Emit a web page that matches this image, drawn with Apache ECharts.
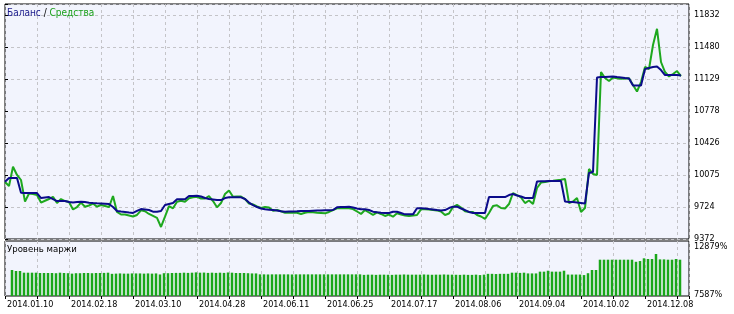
<!DOCTYPE html>
<html>
<head>
<meta charset="utf-8">
<script src="https://cdn.jsdelivr.net/npm/echarts@6/dist/echarts.min.js"></script>
<style>
html,body{margin:0;padding:0;background:#fff;}
#chart{width:734px;height:314px;}
</style>
</head>
<body>
<div id="chart"></div>
<script>
// ---- data ----
const xTickLabels = ['2014.01.10','2014.02.18','2014.03.10','2014.04.28','2014.06.11','2014.06.25','2014.07.17','2014.08.06','2014.09.04','2014.10.02','2014.12.08'];
const yTickLabels = ['9372','9724','10075','10426','10778','11129','11480','11832'];
const marginTickLabels = ['7587%','12879%'];

const balance = [
10001,10042,10042,10042,9880,9877,9877,9877,9877,9822,
9828,9833,9811,9789,9789,9789,9778,9772,9778,9782,
9778,9771,9767,9764,9762,9759,9756,9723,9680,9674,
9669,9663,9658,9680,9701,9696,9690,9672,9672,9680,
9745,9756,9767,9808,9808,9808,9844,9844,9848,9839,
9822,9811,9806,9800,9800,9822,9830,9830,9830,9830,
9811,9772,9745,9723,9707,9698,9694,9690,9685,9676,
9672,9674,9674,9676,9680,9680,9680,9682,9684,9685,
9687,9689,9690,9720,9723,9723,9727,9718,9707,9698,
9698,9690,9672,9665,9661,9658,9658,9672,9672,9658,
9643,9643,9643,9709,9709,9707,9701,9696,9690,9685,
9690,9712,9727,9727,9707,9690,9669,9658,9658,9658,
9658,9833,9833,9833,9833,9833,9855,9866,9850,9839,
9822,9822,9822,10003,10006,10006,10009,10009,10009,10009,
9784,9778,9778,9772,9767,9762,10097,10108,11146,11151,
11151,11154,11157,11151,11146,11140,11135,11058,11058,11058,
11239,11250,11261,11266,11228,11173,11173,11173,11173,11168
];

const equity = [
9998,9954,10166,10075,10020,9782,9871,9866,9855,9772,
9792,9811,9836,9767,9811,9789,9778,9696,9723,9772,
9727,9740,9762,9727,9745,9734,9723,9844,9669,9641,
9641,9630,9619,9636,9687,9677,9647,9625,9603,9504,
9617,9734,9709,9782,9792,9782,9819,9830,9836,9817,
9817,9844,9789,9720,9767,9866,9905,9836,9840,9839,
9811,9762,9751,9729,9712,9723,9718,9682,9690,9676,
9661,9661,9661,9661,9647,9661,9669,9665,9661,9658,
9654,9669,9690,9709,9709,9709,9709,9701,9674,9647,
9690,9663,9636,9665,9647,9625,9641,9617,9654,9641,
9630,9625,9630,9636,9698,9698,9696,9690,9686,9674,
9636,9652,9723,9747,9718,9676,9669,9669,9636,9619,
9592,9658,9734,9743,9712,9707,9756,9877,9855,9828,
9767,9795,9756,9932,9992,9999,10006,10011,10017,10022,
10031,9767,9784,9822,9669,9712,10141,10086,10075,11206,
11140,11107,11146,11137,11131,11135,11138,11063,10992,11096,
11261,11239,11503,11680,11316,11206,11157,11184,11217,11162
];

const marginLevel = [
10088,9992,9992,9830,9830,9830,9830,9800,9800,9800,
9800,9780,9830,9800,9780,9740,9780,9780,9800,9800,
9780,9800,9800,9810,9830,9720,9740,9760,9740,9740,
9760,9760,9760,9740,9760,9740,9760,9660,9780,9780,
9800,9810,9810,9830,9810,9830,9860,9830,9840,9810,
9830,9810,9830,9810,9850,9830,9800,9800,9800,9780,
9760,9760,
9670,9670,9660,9670,9670,9670,9670,9670,9660,9670,9670,9670,9670,9670,9670,9670,9670,9670,9670,9670,9670,9670,9670,9670,9670,9670,
9620,9640,9640,9620,9640,9640,9630,9620,9640,9640,9660,9640,9640,9640,9640,9660,9640,9630,9640,9640,9660,9640,9640,9630,9620,9640,9620,9620,9640,9600,9640,
9720,9720,9700,9720,9720,9720,
9830,9830,9810,9830,
9760,9760,9760,
9930,9930,10020,9930,9930,9930,10020,
9650,9650,9650,9650,
9600,9780,10088,10088,
11080,11080,11080,11080,11080,11080,11080,11080,11080,10880,10950,11214,11150,11150,11627,11110,11110,11080,11080,11150,11080
];

// ---- layout / style constants ----
const FONT = "'DejaVu Sans Condensed','DejaVu Sans',sans-serif";
const X_MAX = 171, X_STEP = 8, LABEL_EVERY = 16;
const Y_MIN = 9372, Y_STEP = 351.43, Y_MAX = 11953;
const M_MIN = 7587, M_MAX = 12879;
const BAR_X0 = 1.75;
const PLOT_BG = '#F2F4FD';
const GRID_LINE = {show:true, lineStyle:{color:'#C4C4C8', type:[3,3], width:1}};

const chart = echarts.init(document.getElementById('chart'), null, {renderer:'canvas'});

function xLabel(v){
  if (Math.abs(v % LABEL_EVERY) < 1e-6) {
    const k = Math.round(v / LABEL_EVERY);
    return xTickLabels[k] || '';
  }
  return '';
}
function yLabel(v){
  const k = Math.round((v - Y_MIN) / Y_STEP);
  if (Math.abs(v - (Y_MIN + k*Y_STEP)) < 1 && k >= 0 && k < yTickLabels.length) return yTickLabels[k];
  return '';
}

const option = {
  backgroundColor: '#ffffff',
  animation: false,
  title: [
    {left: 7, top: 8, padding: 0, text: '{b|Баланс} {s|/} {g|Средства}',
     textStyle:{fontFamily:FONT, fontSize:10, fontWeight:'normal',
       rich:{b:{color:'#1a1a8c',fontFamily:FONT,fontSize:10},s:{color:'#000',fontFamily:FONT,fontSize:10},g:{color:'#1aa01a',fontFamily:FONT,fontSize:10}}}},
    {left: 7, top: 245, padding: 0, text: 'Уровень маржи',
     textStyle:{fontFamily:FONT, fontSize:9.5, fontWeight:'normal', color:'#000'}}
  ],
  grid: [
    {left:5, right:45, top:4, height:235, show:true, backgroundColor:PLOT_BG, borderColor:'#000', borderWidth:1, containLabel:false, outerBoundsMode:'none'},
    {left:5, right:45, top:241, height:55, show:true, backgroundColor:PLOT_BG, borderColor:'#000', borderWidth:1, containLabel:false, outerBoundsMode:'none'}
  ],
  xAxis: [
    {gridIndex:0, type:'value', min:0, max:X_MAX, interval:X_STEP,
     axisLine:{show:false}, axisTick:{show:false}, axisLabel:{show:false}, splitLine:GRID_LINE},
    {gridIndex:1, type:'value', min:0, max:X_MAX, interval:X_STEP,
     axisLine:{show:false}, axisTick:{show:true, length:3, lineStyle:{color:'#000'}},
     axisLabel:{show:true, formatter:xLabel, align:'left', margin:4, padding:[0,0,0,2],
       color:'#000', fontFamily:FONT, fontSize:9, showMinLabel:true, showMaxLabel:true, hideOverlap:false},
     splitLine:GRID_LINE}
  ],
  yAxis: [
    {gridIndex:0, type:'value', position:'right', min:Y_MIN, max:Y_MAX, interval:Y_STEP,
     axisLine:{show:false}, axisTick:{show:true, length:3, lineStyle:{color:'#000'}},
     axisLabel:{show:true, formatter:yLabel, margin:5, color:'#000', fontFamily:FONT, fontSize:9, showMinLabel:true, showMaxLabel:true},
     splitLine:GRID_LINE},
    {gridIndex:1, type:'value', position:'right', min:M_MIN, max:M_MAX, interval:M_MAX-M_MIN,
     axisLine:{show:false}, axisTick:{show:false},
     axisLabel:{show:true, margin:5, color:'#000', fontFamily:FONT, fontSize:9,
       formatter:function(v){ return v >= M_MAX - 1 ? '{t|' + marginTickLabels[1] + '}' : '{n|' + marginTickLabels[0] + '}'; },
       rich:{t:{padding:[11,0,0,0], fontFamily:FONT, fontSize:9, color:'#000'}, n:{padding:[0,0,3,0], fontFamily:FONT, fontSize:9, color:'#000'}}},
     splitLine:{show:false}}
  ],
  series: [
    {name:'Средства', type:'line', xAxisIndex:0, yAxisIndex:0, showSymbol:false, symbol:'none',
     data: equity.map((v,i)=>[i,v]), lineStyle:{color:'#1ea81e', width:2}, z:2},
    {name:'Баланс', type:'line', xAxisIndex:0, yAxisIndex:0, showSymbol:false, symbol:'none',
     data: balance.map((v,i)=>[i,v]), lineStyle:{color:'#0b0b8a', width:2}, z:3},
    {name:'Уровень маржи', type:'bar', xAxisIndex:1, yAxisIndex:1, barWidth:2.5,
     data: marginLevel.map((v,k)=>[k+BAR_X0, v]), itemStyle:{color:'#1aa71a'}}
  ]
};
chart.setOption(option);
</script>
</body>
</html>
